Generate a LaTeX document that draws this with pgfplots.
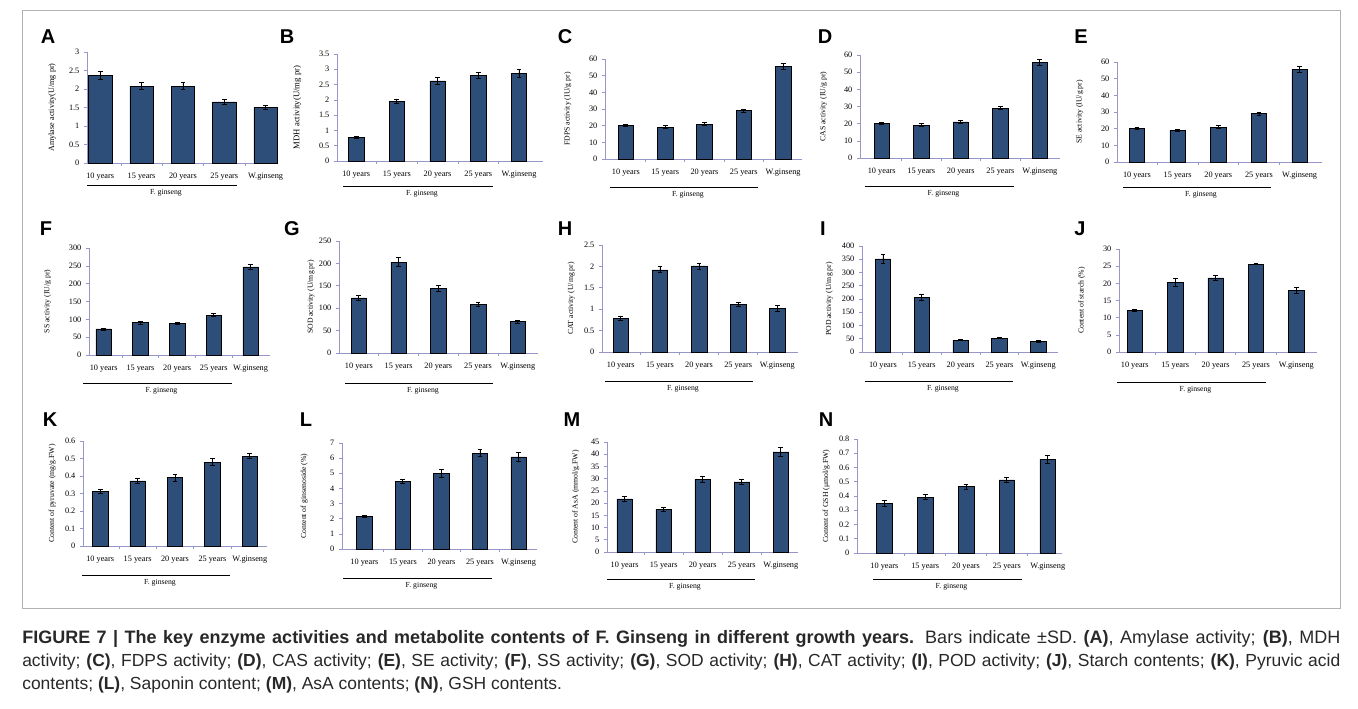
\documentclass[border=0pt]{standalone}
\usepackage{pgfplots}
\pgfplotsset{compat=1.18}
\usepackage{fontspec}
\setmainfont{Liberation Serif}
\newfontfamily\capfont{Liberation Sans}
\definecolor{barcol}{RGB}{45,78,120}
\definecolor{axcol}{RGB}{150,150,200}
\definecolor{captxt}{RGB}{40,40,40}
\pgfplotsset{
  panel/.style={
    scale only axis, anchor=south west,
    ymin=0,
    xtick={0,1,2,3,4},
    xticklabels={10 years,15 years,20 years,25 years,W.ginseng},
    minor xtick={0.5,1.5,2.5,3.5},
    axis x line*=bottom, axis y line*=left,
    axis line style={axcol, line width=0.6pt, -},
    tick align=outside, major tick length=2.2pt, minor tick length=2.2pt,
    every tick/.style={axcol, line width=0.5pt},
    major x tick style={draw=none},
    ybar, bar width=11.6pt,
    cycle list={{fill=barcol, draw=barcol!75!white, line width=0.4pt}},
    ticklabel style={font=\fontsize{6.2}{7}\selectfont},
    xticklabel style={yshift=-2pt},
    /pgf/number format/assume math mode=true,
    ylabel style={font=\fontsize{5.8}{7}\selectfont},
    error bars/y dir=both, error bars/y explicit,
    error bars/error mark options={black, mark size=1.8pt, line width=0.6pt, rotate=90},
    error bars/error bar style={black, line width=0.6pt},
  }
}
\begin{document}
\begin{tikzpicture}
\begin{scope}[x=0.75pt,y=-0.75pt]
\path[use as bounding box] (0,0) rectangle (1358,708);
\draw[gray!60, line width=0.5pt] (22,10) rectangle (1340,608);
\end{scope}

% A
\begin{axis}[panel, at={(65.25pt,-122.25pt)}, width=143.25pt, height=83.25pt,
  xmin=-0.32, xmax=4.30, ymax=3, ytick={0,0.5,...,3}, bar width=17.5pt,
  ylabel={Amylase activity(U/mg pr)}, ylabel style={font=\fontsize{6.1}{7}\selectfont}, ylabel shift=3pt]
\addplot coordinates {(0,2.37) +- (0,0.1) (1,2.08) +- (0,0.09) (2,2.08) +- (0,0.09) (3,1.65) +- (0,0.06) (4,1.50) +- (0,0.06)};
\end{axis}
% B
\begin{axis}[panel, at={(252.75pt,-120.75pt)}, width=154.5pt, height=80.25pt,
  xmin=-0.47, xmax=4.59, ymax=3.5, ytick={0,0.5,...,3.5},
  ylabel={MDH activity(U/mg pr)}, ylabel style={font=\fontsize{6.5}{7}\selectfont}, ylabel shift=6.5pt]
\addplot coordinates {(0,0.77) +- (0,0.03) (1,1.96) +- (0,0.06) (2,2.62) +- (0,0.1) (3,2.80) +- (0,0.1) (4,2.87) +- (0,0.14)};
\end{axis}
% C
\begin{axis}[panel, at={(453.75pt,-119.25pt)}, width=147.75pt, height=75pt,
  xmin=-0.53, xmax=4.48, ymax=60, ytick={0,10,...,60},
  ylabel={FDPS activity (IU/g pr)}, ylabel shift=6.5pt]
\addplot coordinates {(0,20.1) +- (0,0.6) (1,19.2) +- (0,0.7) (2,21.0) +- (0,0.9) (3,29.1) +- (0,0.9) (4,55.6) +- (0,1.8)};
\end{axis}
% D
\begin{axis}[panel, at={(645pt,-118.5pt)}, width=150pt, height=77.25pt,
  xmin=-0.55, xmax=4.51, ymax=60, ytick={0,10,...,60},
  ylabel={CAS activity (IU/g pr)}, ylabel shift=6pt]
\addplot coordinates {(0,20.1) +- (0,0.6) (1,19.2) +- (0,0.7) (2,21.0) +- (0,0.9) (3,29.1) +- (0,0.9) (4,55.6) +- (0,1.8)};
\end{axis}
% E
\begin{axis}[panel, at={(837.75pt,-121.5pt)}, width=153.75pt, height=75pt,
  xmin=-0.49, xmax=4.55, ymax=60, ytick={0,10,...,60},
  ylabel={SE activity (IU/g pr)}, ylabel shift=6.5pt]
\addplot coordinates {(0,20.1) +- (0,0.6) (1,19.1) +- (0,0.6) (2,21.0) +- (0,0.8) (3,29.1) +- (0,0.9) (4,55.6) +- (0,1.8)};
\end{axis}
% F
\begin{axis}[panel, at={(66.75pt,-266.25pt)}, width=135.75pt, height=80.25pt,
  xmin=-0.40, xmax=4.53, ymax=300, ytick={0,50,...,300},
  ylabel={SS activity (IU/g pr)}, ylabel shift=6.5pt]
\addplot coordinates {(0,73) +- (0,3) (1,91) +- (0,4) (2,89) +- (0,3) (3,112) +- (0,4) (4,247) +- (0,7)};
\end{axis}
% G
\begin{axis}[panel, at={(254.25pt,-264.75pt)}, width=149.25pt, height=84pt,
  xmin=-0.50, xmax=4.51, ymax=250, ytick={0,50,...,250},
  ylabel={SOD activity (U/mg pr)}, ylabel shift=-3.5pt]
\addplot coordinates {(0,123) +- (0,6) (1,203) +- (0,10) (2,145) +- (0,7) (3,108) +- (0,5) (4,70) +- (0,3)};
\end{axis}
% H
\begin{axis}[panel, at={(451.5pt,-264pt)}, width=147pt, height=80.25pt,
  xmin=-0.48, xmax=4.53, ymax=2.5, ytick={0,0.5,...,2.5},
  ylabel={CAT activity (U/mg pr)}]
\addplot coordinates {(0,0.79) +- (0,0.04) (1,1.92) +- (0,0.07) (2,2.01) +- (0,0.07) (3,1.12) +- (0,0.05) (4,1.02) +- (0,0.06)};
\end{axis}
% I
\begin{axis}[panel, at={(646.5pt,-264pt)}, width=147pt, height=79.5pt,
  xmin=-0.54, xmax=4.51, ymax=400, ytick={0,50,...,400},
  ylabel={POD activity (U/mg pr)}]
\addplot coordinates {(0,351) +- (0,18) (1,206) +- (0,10) (2,45) +- (0,2) (3,52) +- (0,2) (4,40) +- (0,2)};
\end{axis}
% J
\begin{axis}[panel, at={(839.25pt,-264pt)}, width=148.5pt, height=77.25pt,
  xmin=-0.39, xmax=4.51, ymax=30, ytick={0,5,...,30},
  ylabel={Content of starch (\%)}, ylabel shift=6.5pt]
\addplot coordinates {(0,12.1) +- (0,0.4) (1,20.2) +- (0,1.2) (2,21.6) +- (0,0.7) (3,25.6) +- (0,0.15) (4,17.9) +- (0,0.9)};
\end{axis}
% K
\begin{axis}[panel, at={(62.25pt,-409.5pt)}, width=138pt, height=78.75pt,
  xmin=-0.46, xmax=4.46, ymax=0.6, ytick={0,0.1,...,0.6},
  ylabel={Content of pyruvate (mg/g.FW)}]
\addplot coordinates {(0,0.312) +- (0,0.012) (1,0.372) +- (0,0.012) (2,0.391) +- (0,0.02) (3,0.48) +- (0,0.022) (4,0.513) +- (0,0.015)};
\end{axis}
% L
\begin{axis}[panel, at={(256.5pt,-411.75pt)}, width=146.25pt, height=79.5pt,
  xmin=-0.58, xmax=4.48, ymax=7, ytick={0,1,...,7},
  ylabel={Content of ginsenoside (\%)}, ylabel shift=10pt]
\addplot coordinates {(0,2.14) +- (0,0.08) (1,4.47) +- (0,0.15) (2,4.98) +- (0,0.28) (3,6.34) +- (0,0.25) (4,6.08) +- (0,0.3)};
\end{axis}
% M
\begin{axis}[panel, at={(455.25pt,-414pt)}, width=143.25pt, height=82.5pt,
  xmin=-0.45, xmax=4.44, ymax=45, ytick={0,5,...,45},
  ylabel={Content of AsA (mmol/g.FW)}, ylabel shift=2pt]
\addplot coordinates {(0,21.7) +- (0,1.0) (1,17.5) +- (0,0.9) (2,29.7) +- (0,1.1) (3,28.7) +- (0,1.0) (4,41.0) +- (0,1.7)};
\end{axis}
% N
\begin{axis}[panel, at={(642.75pt,-414.75pt)}, width=153.75pt, height=85.5pt,
  xmin=-0.67, xmax=4.35, ymax=0.8, ytick={0,0.1,...,0.8},
  ylabel={Content of GSH (μmol/g.FW)}]
\addplot coordinates {(0,0.35) +- (0,0.02) (1,0.393) +- (0,0.015) (2,0.466) +- (0,0.017) (3,0.513) +- (0,0.02) (4,0.658) +- (0,0.03)};
\end{axis}

\begin{scope}[x=0.75pt,y=-0.75pt]
% underlines and group labels
\foreach \xa/\xb/\yy in {87/237/185, 343/493/186, 610/758/187, 865/1014/186, 1123/1271/187,
  83/232/383, 345/493/383, 605/753/381, 865/1013/381, 1117/1266/382,
  82/230/575, 343/492/578, 607/755/579, 873/1022/579}{
  \draw[black, line width=0.5pt] (\xa,\yy) -- (\xb,\yy);
  \node[font=\fontsize{5.8}{6}\selectfont, anchor=north, inner sep=0pt] at ({(\xa+\xb)/2+4},\yy+4) {F. ginseng};
}
% panel letters
\foreach \lx/\ly/\lt in {48/37/A, 287/37/B, 565/37/C, 825/37/D, 1081/37/E,
  46/229/F, 292/229/G, 565/229/H, 823/229/I, 1080/229/J,
  50/420/K, 306/420/L, 572/420/M, 826/420/N}{
  \node[font=\capfont\bfseries\fontsize{15}{15}\selectfont, inner sep=0pt] at (\lx,\ly) {\lt};
}
% caption
\begin{scope}[every node/.style={anchor=base west, inner sep=0pt, font=\capfont\fontsize{13.1}{15}\selectfont, text=captxt}]
\node at (22,643) {\fontsize{13.5}{15}\selectfont\makebox[988.5pt][s]{\textbf{FIGURE 7 | The key enzyme activities and metabolite contents of F. Ginseng in different growth years.} Bars indicate ±SD. \textbf{(A)}, Amylase activity; \textbf{(B)}, MDH}};
\node at (22,666) {\makebox[988.5pt][s]{activity; \textbf{(C)}, FDPS activity; \textbf{(D)}, CAS activity; \textbf{(E)}, SE activity; \textbf{(F)}, SS activity; \textbf{(G)}, SOD activity; \textbf{(H)}, CAT activity; \textbf{(I)}, POD activity; \textbf{(J)}, Starch contents; \textbf{(K)}, Pyruvic acid}};
\node at (22,689) {contents; \textbf{(L)}, Saponin content; \textbf{(M)}, AsA contents; \textbf{(N)}, GSH contents.};
\end{scope}
\end{scope}
\end{tikzpicture}
\end{document}
